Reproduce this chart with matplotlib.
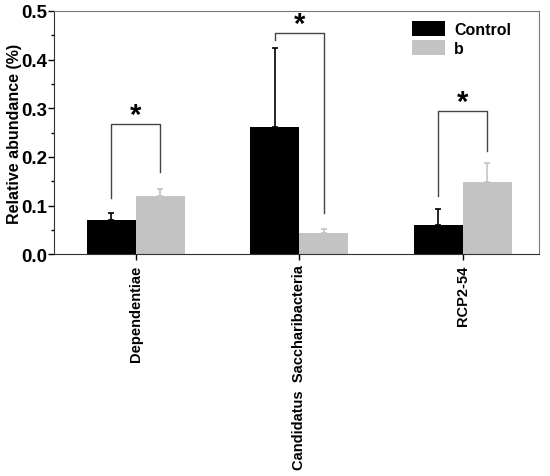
import matplotlib
matplotlib.use("Agg")
import matplotlib.pyplot as plt
import numpy as np
from matplotlib.ticker import MultipleLocator

plt.rcParams['font.family'] = ['Liberation Sans', 'DejaVu Sans']
plt.rcParams['font.weight'] = 'bold'

categories = ["Dependentiae", "Candidatus  Saccharibacteria", "RCP2-54"]
control = [0.070, 0.262, 0.060]
control_err = [0.015, 0.161, 0.032]
treat = [0.119, 0.043, 0.149]
treat_err = [0.016, 0.008, 0.038]
series_names = ["Control", "b"]
# brackets: (left leg bottom, right leg bottom, top)
bracket_left = [0.115, 0.440, 0.119]
bracket_right = [0.169, 0.084, 0.212]
bracket_top = [0.267, 0.455, 0.294]

fig = plt.figure(figsize=(5.5, 4.77), dpi=100)
ax = fig.add_axes([0.098, 0.465, 0.882, 0.51])

x = np.arange(len(categories))
w = 0.3
ax.bar(x - w/2, control, w, color='black', label=series_names[0])
ax.bar(x + w/2, treat, w, color='#c3c3c3', label=series_names[1])
ax.errorbar(x - w/2, control, yerr=[np.zeros(3), control_err], fmt='none',
            ecolor='black', elinewidth=1.2, capsize=2, capthick=1.2)
ax.errorbar(x + w/2, treat, yerr=[np.zeros(3), treat_err], fmt='none',
            ecolor='#c3c3c3', elinewidth=1.2, capsize=2, capthick=1.2)

for i in range(3):
    xl, xr = x[i] - w/2, x[i] + w/2
    ax.plot([xl, xl, xr, xr], [bracket_left[i], bracket_top[i], bracket_top[i], bracket_right[i]],
            color='#444444', lw=1.0)
    ax.text(x[i], bracket_top[i] - 0.010, '*', ha='center', va='bottom',
            fontsize=21, fontweight='bold')

ax.set_xlim(-0.5, 2.465)
ax.set_ylim(0, 0.5)
ax.yaxis.set_minor_locator(MultipleLocator(0.05))
ax.set_yticks(np.arange(0, 0.51, 0.1))
ax.set_yticklabels([f"{v:.1f}" for v in np.arange(0, 0.51, 0.1)], fontsize=13.5, fontweight='bold')
ax.set_xticks(x)
ax.set_xticklabels(categories, rotation=90, fontsize=10.5, fontweight='bold')
ax.set_ylabel("Relative abundance (%)", fontsize=11.5, fontweight='bold')
ax.yaxis.set_label_coords(-0.066, 0.5)
ax.tick_params(axis='both', direction='out', length=4, width=1)
ax.tick_params(axis='y', which='minor', length=2.5, width=1)
ax.tick_params(axis='y', pad=1)
for s in ['top', 'right']:
    ax.spines[s].set_color('#777777')
for s in ['left', 'bottom']:
    ax.spines[s].set_color('#333333')

leg = ax.legend(loc='upper left', bbox_to_anchor=(0.738, 0.958), frameon=False,
                fontsize=11.5, handlelength=2.1, handleheight=1.1, labelspacing=0.15,
                handletextpad=0.55, borderpad=0, borderaxespad=0)
for t in leg.get_texts():
    t.set_fontweight('bold')

fig.savefig("out.png", dpi=100)
